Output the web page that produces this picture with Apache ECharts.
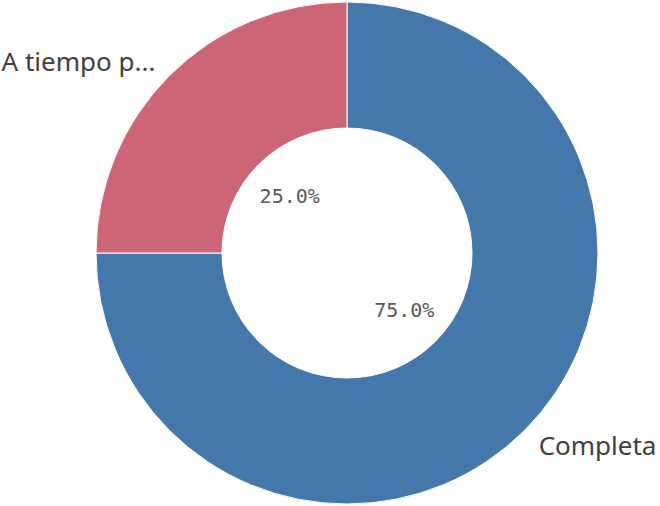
<!DOCTYPE html>
<html>
<head>
<meta charset="utf-8">
<script src="https://cdn.jsdelivr.net/npm/echarts@6/dist/echarts.min.js"></script>
<style>
  html, body { margin: 0; padding: 0; background: #fff; }
  #chart { width: 660px; height: 506px; }
</style>
</head>
<body>
<div id="chart"></div>
<script>
var categories = ['Completa', 'A tiempo parcial'];
var values = [75, 25];
var colors = ['#4477aa', '#cc6677'];

var chartDom = document.getElementById('chart');
var myChart = echarts.init(chartDom, null, { renderer: 'svg' });

var pieData = categories.map(function (name, i) {
  return { name: name, value: values[i], itemStyle: { color: colors[i] } };
});

function shortName(name) {
  return name.length > 10 ? name.slice(0, 10) + '...' : name;
}

var option = {
  animation: false,
  series: [
    {
      // anillo con nombres por fuera
      type: 'pie',
      center: [347, 253],
      radius: [125, 251],
      startAngle: 90,
      clockwise: true,
      avoidLabelOverlap: false,
      itemStyle: { borderColor: '#fff', borderWidth: 1 },
      label: {
        show: true,
        position: 'outside',
        formatter: function (p) { return shortName(p.name); },
        fontFamily: 'Noto Sans, sans-serif',
        fontSize: 26,
        color: '#404040',
        distanceToLabelLine: 0
      },
      labelLine: { show: false, length: 20, length2: 0 },
      emphasis: { disabled: true },
      data: pieData
    },
    {
      // serie invisible solo para los porcentajes dentro del hueco
      type: 'pie',
      center: [347, 253],
      radius: [0, 156],
      startAngle: 90,
      clockwise: true,
      silent: true,
      itemStyle: { color: 'transparent' },
      label: {
        show: true,
        position: 'inside',
        formatter: function (p) { return p.percent.toFixed(1) + '%'; },
        fontFamily: 'DejaVu Sans Mono, monospace',
        fontSize: 20,
        color: '#595959'
      },
      labelLine: { show: false },
      emphasis: { disabled: true },
      data: categories.map(function (name, i) {
        return { name: name, value: values[i] };
      })
    }
  ]
};
myChart.setOption(option, true);
</script>
</body>
</html>
